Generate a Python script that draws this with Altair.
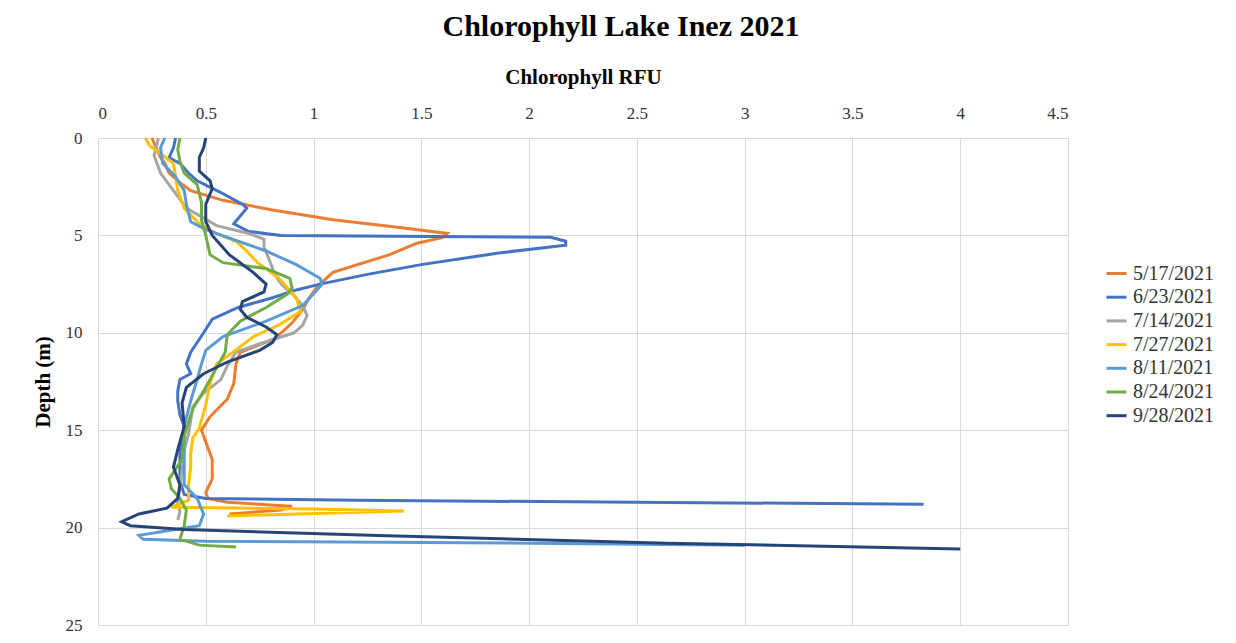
import altair as alt
import pandas as pd

dates = ["5/17/2021", "6/23/2021", "7/14/2021", "7/27/2021", "8/11/2021", "8/24/2021", "9/28/2021"]
colors = ["#ED7D31", "#4472C4", "#A5A5A5", "#FFC000", "#5B9BD5", "#70AD47", "#264478"]

d_0517 = [0, 0.5, 1.0, 1.3, 1.8, 2.2, 2.7, 3.2, 3.7, 4.2, 4.6, 4.9, 5.1, 5.4, 6.0, 6.9, 7.6, 8.2, 8.8, 9.5,
          10.3, 11.0, 11.6, 12.6, 13.4, 14.3, 15.0, 15.6, 16.5, 17.5, 18.2, 18.5, 18.7, 18.9, 19.1, 19.3]
v_0517 = [0.25, 0.27, 0.29, 0.31, 0.33, 0.37, 0.43, 0.58, 0.81, 1.09, 1.40, 1.62, 1.60, 1.48, 1.35, 1.09, 1.02, 0.98, 0.95, 0.90,
          0.82, 0.66, 0.64, 0.63, 0.60, 0.52, 0.48, 0.50, 0.53, 0.53, 0.50, 0.51, 0.60, 0.90, 0.85, 0.61]

d_0623 = [0, 0.5, 1.0, 1.3, 1.8, 2.2, 2.8, 3.4, 3.6, 4.0, 4.4, 4.8, 5.0, 5.1, 5.3, 5.5, 5.9, 6.5, 7.0, 7.5, 7.8,
          8.2, 8.7, 9.3, 10.0, 10.5, 11.0, 11.6, 12.1, 12.4, 13.0, 13.5, 14.2, 14.8, 15.5, 16.2, 17.0, 17.6, 18.3, 18.5, 18.6, 18.8]
v_0623 = [0.36, 0.35, 0.33, 0.38, 0.42, 0.46, 0.57, 0.67, 0.69, 0.66, 0.63, 0.70, 0.85, 2.10, 2.17, 2.17, 1.86, 1.50, 1.25, 1.03, 0.92,
          0.81, 0.65, 0.53, 0.49, 0.46, 0.43, 0.41, 0.43, 0.38, 0.37, 0.37, 0.38, 0.40, 0.39, 0.38, 0.38, 0.38, 0.40, 0.50, 1.20, 3.83]

d_0714 = [0, 0.5, 0.9, 1.8, 2.7, 3.6, 4.5, 4.9, 5.2, 5.6, 6.4, 7.0, 7.5, 8.0, 8.6, 9.1, 9.6, 10.0, 10.6, 11.0,
          11.7, 12.4, 13.1, 13.8, 14.5, 15.2, 16.0, 17.0, 18.0, 18.7, 19.2, 19.6]
v_0714 = [0.28, 0.27, 0.26, 0.29, 0.35, 0.41, 0.55, 0.70, 0.77, 0.77, 0.80, 0.82, 0.85, 0.90, 0.95, 0.97, 0.95, 0.91, 0.74, 0.64,
          0.60, 0.57, 0.49, 0.44, 0.43, 0.42, 0.40, 0.39, 0.38, 0.37, 0.38, 0.37]

d_0727 = [0, 0.4, 0.8, 1.3, 2.0, 2.7, 3.6, 4.4, 4.9, 5.3, 5.8, 6.4, 7.2, 7.7, 8.2, 8.9, 9.6, 10.2, 10.8, 11.6,
          12.6, 13.7, 14.9, 15.4, 16.2, 16.9, 17.8, 18.6, 18.95, 19.05, 19.15, 19.4]
v_0727 = [0.22, 0.24, 0.29, 0.35, 0.36, 0.37, 0.40, 0.47, 0.55, 0.64, 0.69, 0.74, 0.84, 0.88, 0.92, 0.94, 0.84, 0.72, 0.65, 0.55,
          0.52, 0.50, 0.47, 0.44, 0.43, 0.43, 0.42, 0.42, 0.34, 1.00, 1.42, 0.60]

d_0811 = [0, 0.5, 1.3, 2.0, 2.7, 3.4, 4.3, 4.7, 5.1, 5.8, 6.5, 7.2, 7.5, 8.0, 8.6, 9.4, 10.2, 10.9, 11.6, 12.4,
          13.5, 14.8, 16.0, 17.0, 17.8, 18.5, 19.3, 19.9, 20.2, 20.4, 20.6, 20.7, 20.8, 20.9]
v_0811 = [0.31, 0.29, 0.30, 0.36, 0.40, 0.41, 0.43, 0.50, 0.60, 0.78, 0.92, 1.03, 1.04, 1.00, 0.95, 0.78, 0.58, 0.50, 0.48, 0.46,
          0.43, 0.40, 0.40, 0.40, 0.40, 0.46, 0.49, 0.47, 0.30, 0.19, 0.21, 0.50, 2.00, 3.00]

d_0824 = [0, 0.6, 1.2, 1.8, 2.4, 3.3, 4.2, 5.0, 5.5, 6.0, 6.4, 6.7, 7.2, 7.7, 8.0, 8.7, 9.4, 10.1, 11.0, 11.8,
          12.8, 13.9, 15.3, 16.5, 17.5, 18.0, 18.5, 19.1, 19.9, 20.6, 20.9, 21.0]
v_0824 = [0.38, 0.37, 0.38, 0.40, 0.46, 0.48, 0.48, 0.50, 0.51, 0.52, 0.58, 0.78, 0.89, 0.90, 0.88, 0.78, 0.66, 0.60, 0.59, 0.55,
          0.50, 0.44, 0.40, 0.39, 0.33, 0.34, 0.38, 0.41, 0.40, 0.38, 0.47, 0.64]

d_0928 = [0, 0.5, 1.0, 1.7, 2.2, 2.6, 3.4, 4.3, 5.0, 6.0, 6.9, 7.5, 7.9, 8.4, 8.8, 9.2, 9.7, 10.1, 10.5, 10.9,
          11.5, 12.1, 12.8, 13.6, 14.8, 16.0, 16.9, 17.8, 18.5, 19.0, 19.3, 19.7, 19.9, 20.1, 20.4, 20.8, 21.1]
v_0928 = [0.50, 0.49, 0.47, 0.47, 0.52, 0.53, 0.50, 0.50, 0.53, 0.61, 0.72, 0.78, 0.77, 0.67, 0.66, 0.69, 0.78, 0.83, 0.81, 0.75,
          0.60, 0.49, 0.41, 0.39, 0.40, 0.37, 0.35, 0.38, 0.37, 0.32, 0.19, 0.11, 0.15, 0.40, 1.30, 2.64, 4.00]

series = [(dates[0], d_0517, v_0517), (dates[1], d_0623, v_0623), (dates[2], d_0714, v_0714),
          (dates[3], d_0727, v_0727), (dates[4], d_0811, v_0811), (dates[5], d_0824, v_0824),
          (dates[6], d_0928, v_0928)]

rows = []
for name, ds, vs in series:
    for i, (d, v) in enumerate(zip(ds, vs)):
        rows.append({"date": name, "depth": d, "rfu": v, "idx": i})
df = pd.DataFrame(rows)

serif = "Liberation Serif"
x_ticks = [0, 0.5, 1, 1.5, 2, 2.5, 3, 3.5, 4, 4.5]
y_ticks = [0, 5, 10, 15, 20, 25]

chart = alt.Chart(df).mark_line(strokeWidth=3).encode(
    x=alt.X("rfu:Q", scale=alt.Scale(domain=[0, 4.5], nice=False),
            axis=alt.Axis(orient="top", values=x_ticks, format="~g", title="Chlorophyll RFU",
                          titleFont=serif, titleFontSize=21, titleFontWeight="bold", titleColor="#000",
                          titlePadding=17, labelFont=serif, labelFontSize=17, labelColor="#333",
                          labelPadding=16, ticks=False, domain=False, gridColor="#d9d9d9")),
    y=alt.Y("depth:Q", scale=alt.Scale(domain=[0, 25], reverse=True, nice=False),
            axis=alt.Axis(values=y_ticks, title="Depth (m)", titleFont=serif, titleFontSize=21,
                          titleFontWeight="bold", titleColor="#000", titlePadding=12,
                          labelFont=serif, labelFontSize=17, labelColor="#333", labelPadding=16,
                          ticks=False, domainColor="#d9d9d9", gridColor="#d9d9d9")),
    color=alt.Color("date:N", scale=alt.Scale(domain=dates, range=colors),
                    legend=alt.Legend(title=None, orient="none", legendX=1007, legendY=124,
                                      symbolType="stroke", symbolStrokeWidth=3, symbolSize=400,
                                      labelFont=serif, labelFontSize=20, labelColor="#333",
                                      labelOffset=5, rowPadding=1.7)),
    order="idx:Q",
).properties(
    width=970, height=487,
    title=alt.TitleParams("Chlorophyll Lake Inez 2021", font=serif, fontSize=30, fontWeight="bold",
                          color="#000", anchor="middle", dx=38, offset=24),
    padding={"left": 90, "top": 130, "right": 150, "bottom": 10},
    autosize="none",
).configure_view(stroke="#d9d9d9")

chart.save("out.html", embed_options={"renderer": "svg", "actions": False})
